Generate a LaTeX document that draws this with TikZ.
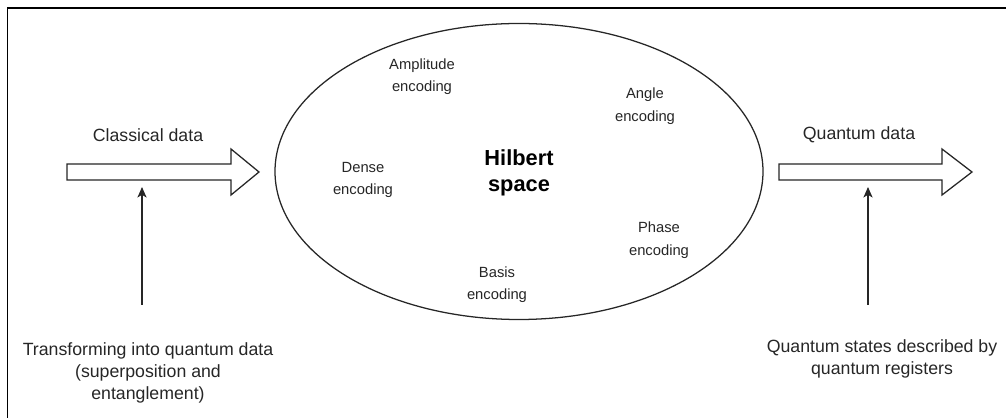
\documentclass[tikz,border=0pt]{standalone}
\usepackage{fontspec}
\setmainfont{Liberation Sans}
\usetikzlibrary{arrows.meta}

\tikzset{
	outer label/.style={font=\fontsize{12.6}{15.6}\selectfont, text=black!85, align=center, inner sep=0pt},
	enc label/.style={font=\fontsize{10.5}{16}\selectfont, text=black!85, align=center, inner sep=0pt},
	block arrow/.style={draw=black!85, line width=0.9pt, fill=white, line join=miter},
	up arrow/.style={draw=black!85, line width=0.9pt, -{Stealth[length=7.5pt, width=6.5pt, inset=2pt]}}
}

\begin{document}
\begin{tikzpicture}[x=0.025cm, y=-0.025cm]
	\useasboundingbox (0,0) rectangle (1006,418);
	\draw[line width=1.2pt] (7.5,418) -- (7.5,8.3) -- (1006,8.3);

	\draw[line width=0.9pt, draw=black!85] (519,171.5) ellipse [x radius=244, y radius=148];
	\node[font=\fontsize{15.5}{18.5}\selectfont\bfseries, align=center, inner sep=0pt] (hilbert) at (519,173) {Hilbert\\space};
	\node[enc label] (amplitude) at (422,76.5) {Amplitude\\encoding};
	\node[enc label] (angle) at (645,106) {Angle\\encoding};
	\node[enc label] (dense) at (363,180) {Dense\\encoding};
	\node[enc label] (phase) at (659,240) {Phase\\encoding};
	\node[enc label] (basis) at (497,284.5) {Basis\\encoding};

	\draw[block arrow] (67,164) -- (231,164) -- (231,149) -- (259,172) -- (231,195) -- (231,180) -- (67,180) -- cycle;
	\draw[block arrow] (779,164) -- (942,164) -- (942,149) -- (972,172) -- (942,195) -- (942,180) -- (779,180) -- cycle;
	\node[outer label] (classical) at (148,135) {Classical data};
	\node[outer label] (quantum) at (859,135) {Quantum data};

	\node[outer label] (transform) at (148,372.5) {Transforming into quantum data\\(superposition and\\entanglement)};
	\node[outer label] (states) at (882,359) {Quantum states described by\\quantum registers};
	\coordinate (transform top) at (142,305);
	\coordinate (classical bottom) at (142,187);
	\coordinate (states top) at (868,305);
	\coordinate (quantum bottom) at (868,187);
	\draw[up arrow] (transform top) -- (classical bottom);
	\draw[up arrow] (states top) -- (quantum bottom);
\end{tikzpicture}
\end{document}
